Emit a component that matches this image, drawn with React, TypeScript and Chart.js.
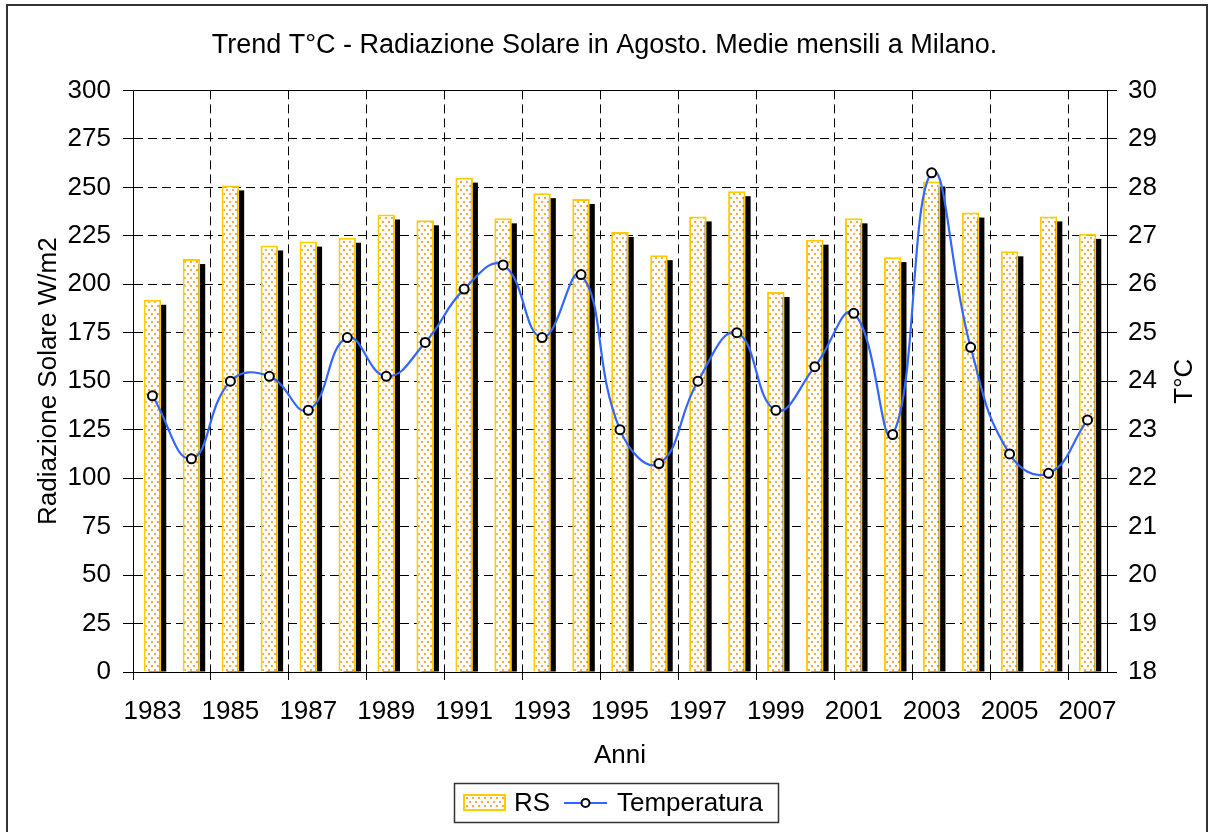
import React, { useEffect, useRef } from 'react';
import { Chart, registerables } from 'chart.js';

Chart.register(...registerables);

const years = ['1983', '1984', '1985', '1986', '1987', '1988', '1989', '1990', '1991', '1992', '1993', '1994', '1995', '1996', '1997', '1998', '1999', '2000', '2001', '2002', '2003', '2004', '2005', '2006', '2007'];
const rsValues = [192, 213, 251, 220, 222, 224, 236, 233, 255, 234, 247, 244, 227, 215, 235, 248, 196, 223, 234, 214, 253, 237, 217, 235, 226];
const tempValues = [23.7, 22.4, 24.0, 24.1, 23.4, 24.9, 24.1, 24.8, 25.9, 26.4, 24.9, 26.2, 23.0, 22.3, 24.0, 25.0, 23.4, 24.3, 25.4, 22.9, 28.3, 24.7, 22.5, 22.1, 23.2];
const titleText = 'Trend T°C - Radiazione Solare in Agosto. Medie mensili a Milano.';
const leftTitle = 'Radiazione Solare W/m2';
const rightTitle = 'T°C';
const xTitle = 'Anni';
const rsLabel = 'RS';
const tempLabel = 'Temperatura';

const FONT = '"Liberation Sans", Arial, sans-serif';
const YELLOW = '#FFCC00';
const BLUE = '#3366FF';

export default function App() {
  const ref = useRef<HTMLCanvasElement>(null);

  useEffect(() => {
    const canvas = ref.current!;
    const pc = document.createElement('canvas');
    pc.width = 6;
    pc.height = 8;
    const p = pc.getContext('2d')!;
    p.fillStyle = '#ffffff';
    p.fillRect(0, 0, 6, 8);
    p.fillStyle = '#FFA640';
    p.fillRect(1, 1, 2, 2);
    p.fillRect(4, 5, 2, 2);
    const pattern = canvas.getContext('2d')!.createPattern(pc, 'repeat')!;

    const decor = {
      id: 'decor',
      beforeDatasetDraw(chart: any, args: any) {
        if (args.index !== 0) return;
        const ctx = chart.ctx;
        const area = chart.chartArea;
        ctx.save();
        ctx.beginPath();
        ctx.rect(area.left, area.top, area.right - area.left, area.bottom - area.top);
        ctx.clip();
        ctx.fillStyle = '#000';
        for (const el of args.meta.data) {
          const { x, y, base, width } = el.getProps(['x', 'y', 'base', 'width'], true);
          ctx.fillRect(x - width / 2 + 5, y + 5, width, base - y - 5);
        }
        ctx.restore();
      },
      afterDraw(chart: any) {
        const ctx = chart.ctx;
        const area = chart.chartArea;
        ctx.save();
        // plot top border
        ctx.strokeStyle = '#000';
        ctx.lineWidth = 1;
        ctx.beginPath();
        ctx.moveTo(area.left, Math.round(area.top) + 0.5);
        ctx.lineTo(area.right, Math.round(area.top) + 0.5);
        ctx.stroke();
        // outer border
        ctx.strokeStyle = '#333';
        ctx.lineWidth = 2;
        ctx.strokeRect(7, 5, 1200, 900);
        // right title rotated
        ctx.fillStyle = '#000';
        ctx.font = '26px ' + FONT;
        ctx.textAlign = 'center';
        ctx.textBaseline = 'middle';
        ctx.translate(1185, (area.top + area.bottom) / 2);
        ctx.rotate(-Math.PI / 2);
        ctx.fillText(rightTitle, 0, 0);
        ctx.restore();

        // legend
        ctx.save();
        const bx = 454.5, by = 783.5, bw = 324, bh = 39;
        ctx.strokeStyle = '#333';
        ctx.lineWidth = 1.5;
        ctx.strokeRect(bx, by, bw, bh);
        ctx.fillStyle = pattern;
        ctx.fillRect(463, 794, 43, 17);
        ctx.strokeStyle = YELLOW;
        ctx.lineWidth = 2;
        ctx.strokeRect(464, 795, 41, 15);
        ctx.fillStyle = '#000';
        ctx.font = '26px ' + FONT;
        ctx.textAlign = 'left';
        ctx.textBaseline = 'alphabetic';
        ctx.fillText(rsLabel, 514, 811);
        ctx.strokeStyle = BLUE;
        ctx.lineWidth = 2;
        ctx.beginPath();
        ctx.moveTo(564, 803);
        ctx.lineTo(607, 803);
        ctx.stroke();
        ctx.beginPath();
        ctx.arc(585.5, 803, 4, 0, Math.PI * 2);
        ctx.fillStyle = '#fff';
        ctx.fill();
        ctx.strokeStyle = '#000';
        ctx.stroke();
        ctx.fillStyle = '#000';
        ctx.fillText(tempLabel, 617, 811);
        ctx.restore();
      },
    };

    const chart = new Chart(canvas, {
      type: 'bar',
      data: {
        labels: years,
        datasets: [
          {
            type: 'bar',
            label: rsLabel,
            data: rsValues,
            backgroundColor: pattern,
            borderColor: YELLOW,
            borderWidth: 2,
            barPercentage: 0.45,
            categoryPercentage: 1,
            yAxisID: 'y',
            order: 1,
          },
          {
            type: 'line',
            label: tempLabel,
            data: tempValues,
            borderColor: BLUE,
            borderWidth: 2.2,
            tension: 0.45,
            fill: false,
            pointRadius: 4.5,
            pointBackgroundColor: '#fff',
            pointBorderColor: '#000',
            pointBorderWidth: 2,
            yAxisID: 'y1',
            order: 0,
          } as any,
        ],
      },
      options: {
        responsive: false,
        animation: false,
        layout: { padding: { left: 0, right: 0, top: 0, bottom: 55 } },
        font: { family: FONT },
        plugins: {
          legend: { display: false },
          tooltip: { enabled: false },
          title: {
            display: true,
            text: titleText,
            color: '#000',
            font: { family: FONT, size: 27, weight: 'normal' },
            padding: { top: 29, bottom: 29 },
          },
        },
        scales: {
          x: {
            offset: true,
            grid: {
              offset: true,
              color: (c: any) => (c.index % 2 === 0 ? '#000' : 'rgba(0,0,0,0)'),
              lineWidth: 1,
              tickLength: 8,
              tickBorderDash: [],
            },
            border: { display: true, color: '#000', width: 1, dash: [9, 5] },
            ticks: {
              autoSkip: false,
              maxRotation: 0,
              color: '#000',
              font: { family: FONT, size: 26 },
              padding: 16,
              callback: (_v: any, i: number) => (i % 2 === 0 ? years[i] : ''),
            },
            title: {
              display: true,
              text: xTitle,
              color: '#000',
              font: { family: FONT, size: 26 },
              padding: { top: 0, bottom: 6 },
            },
            afterFit: (s: any) => {
              s.height = 105;
            },
          },
          y: {
            position: 'left',
            min: 0,
            max: 300,
            grid: { color: '#000', lineWidth: 1, tickLength: 10, tickBorderDash: [] },
            border: {
              display: true,
              color: '#000',
              width: 1,
              dash: (c: any) => (c.tick && c.tick.value === 300 ? [] : [9, 5]),
            },
            ticks: {
              stepSize: 25,
              color: '#000',
              font: { family: FONT, size: 26 },
              padding: 12,
            },
            title: {
              display: true,
              text: leftTitle,
              color: '#000',
              font: { family: FONT, size: 26 },
              padding: { top: 33, bottom: 0 },
            },
            afterFit: (s: any) => {
              s.width = 133;
            },
          },
          y1: {
            position: 'right',
            min: 18,
            max: 30,
            grid: { drawOnChartArea: false, color: '#000', tickLength: 10, tickBorderDash: [] },
            border: { display: true, color: '#000', width: 1 },
            ticks: {
              stepSize: 1,
              color: '#000',
              font: { family: FONT, size: 26 },
              padding: 11,
            },
            afterFit: (s: any) => {
              s.width = 102;
            },
          },
        },
      } as any,
      plugins: [decor],
    });

    return () => chart.destroy();
  }, []);

  return (
    <canvas
      ref={ref}
      width={1209}
      height={832}
      style={{ position: 'fixed', left: 0, top: 0, display: 'block', background: '#fff' }}
    />
  );
}
